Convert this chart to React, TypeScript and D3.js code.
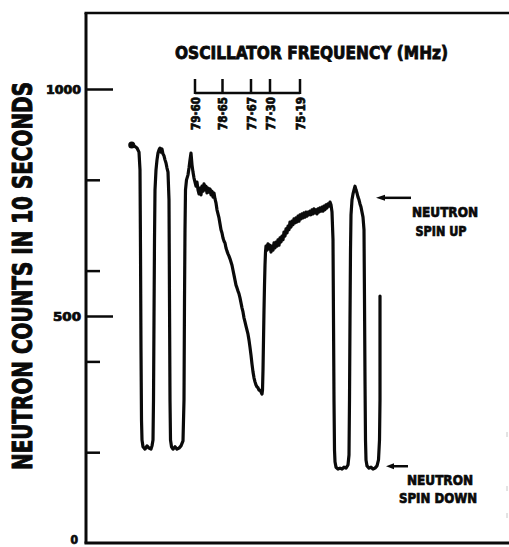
import React from 'react';
import * as d3 from 'd3';

const W = 509;
const H = 547;

// sweep time (arbitrary units) and neutron counts
const sweepTime = [
  45.7, 48, 51, 53, 54, 54.5, 55, 55.5, 56, 57,
  59, 61, 63, 65, 66, 67, 67.5, 68, 68.5, 69,
  70, 71, 72, 73, 74, 75, 76, 77, 78, 79,
  80, 81, 82, 83, 83.5, 84, 84.5, 85.5, 87, 89,
  91, 93, 95, 97, 98, 98.5, 99, 99.5, 100.5, 102,
  103, 104, 105, 106, 107, 108, 109, 110, 111, 112,
  113, 114, 115, 116, 117, 118, 119, 120, 121, 122,
  123, 124, 125, 126, 127, 128, 129, 130, 131, 132,
  133, 134, 135, 136, 137, 138, 139, 140, 141, 142,
  143, 144, 145, 146, 147, 148, 149, 150, 151, 152,
  153, 154, 155, 156, 157, 158, 159, 160, 161, 162,
  163, 164, 165, 166, 167, 168, 169, 170, 171, 172,
  173, 174, 175, 176, 176.5, 177, 177.5, 178, 178.5, 179,
  179.5, 180, 181, 182, 183, 184, 185, 186, 187, 188,
  189, 190, 191, 192, 193, 194, 195, 196, 197, 198,
  199, 200, 201, 202, 203, 204, 205, 206, 207, 208,
  209, 210, 211, 212, 213, 214, 215, 216, 217, 218,
  219, 220, 221, 222, 223, 224, 225, 226, 227, 228,
  229, 230, 231, 232, 233, 234, 235, 236, 237, 238,
  239, 240, 241, 242, 243, 244, 245, 246, 247, 247.5,
  248, 248.5, 249, 250, 252, 254, 256, 258, 260, 262,
  263, 263.5, 264, 264.5, 265, 266, 267, 268, 269, 270,
  271, 272, 273, 274, 275, 276, 277, 278, 278.5, 279,
  279.5, 280, 281, 283, 285, 287, 289, 291, 292.5, 293.5,
  294, 294,
];

const neutronCounts = [
  878, 876, 871, 862, 823, 646, 426, 272, 228, 213,
  208, 215, 210, 208, 215, 228, 316, 492, 669, 779,
  823, 845, 860, 867, 871, 862, 869, 858, 854, 845,
  838, 827, 818, 757, 536, 316, 228, 213, 208, 213,
  208, 210, 215, 226, 316, 536, 691, 779, 801, 812,
  827, 845, 860, 834, 818, 805, 796, 787, 796, 779,
  770, 783, 768, 787, 776, 792, 779, 787, 772, 783,
  774, 781, 768, 776, 763, 772, 759, 750, 735, 726,
  717, 704, 691, 684, 673, 666, 662, 651, 644, 638,
  633, 627, 620, 613, 602, 591, 580, 569, 563, 556,
  550, 541, 530, 519, 510, 497, 488, 479, 470, 461,
  448, 432, 415, 395, 378, 365, 356, 349, 345, 343,
  338, 338, 334, 329, 338, 382, 448, 514, 569, 613,
  642, 655, 646, 660, 649, 657, 642, 655, 646, 662,
  651, 664, 655, 669, 657, 673, 664, 677, 669, 686,
  677, 693, 684, 699, 691, 708, 697, 710, 702, 715,
  706, 717, 708, 721, 710, 724, 715, 726, 717, 728,
  719, 730, 721, 730, 724, 732, 724, 735, 726, 737,
  728, 735, 726, 737, 730, 739, 732, 741, 732, 743,
  735, 746, 739, 748, 743, 752, 746, 730, 669, 492,
  316, 206, 180, 168, 164, 166, 164, 168, 166, 173,
  195, 316, 492, 646, 724, 757, 770, 779, 787, 779,
  772, 763, 757, 748, 741, 730, 719, 691, 536, 360,
  228, 184, 171, 166, 168, 164, 166, 171, 184, 228,
  316, 545,
];

const yMajorTicks = [1000, 500];
const yMinorTicks = [800, 600, 400, 200];
const yZeroLabel = '0';

const freqLabels = ['79·60', '78·65', '77·67', '77·30', '75·19'];
const freqTimes = [109, 136.5, 165, 184, 214];

const spinUpCount = 757;
const spinDownCount = 168;

const FONT = "'DejaVu Sans Condensed', 'Liberation Sans Narrow', 'DejaVu Sans', sans-serif";
const INK = '#0a0a0a';

export default function App() {
  const left = 86;
  const top = 13;
  const bottom = 543.5;
  const x = d3.scaleLinear().domain([0, 423]).range([left, W]);
  const y = d3.scaleLinear().domain([0, 1000]).range([bottom, 89.5]);

  const pts: [number, number][] = sweepTime.map((t, i) => [t, neutronCounts[i]]);
  const line = d3
    .line<[number, number]>()
    .x((d) => x(d[0]))
    .y((d) => y(d[1]));

  const freqY = 93;
  const upY = y(spinUpCount) - 2;
  const downY = y(spinDownCount) - 1;

  const heavy = { stroke: INK, strokeWidth: 0.7, paintOrder: 'stroke' as const };

  return (
    <svg
      width={W}
      height={H}
      style={{ position: 'absolute', left: 0, top: 0, background: '#fff' }}
    >
      <rect x={0} y={0} width={W} height={H} fill="#fff" />
      {/* frame */}
      <line x1={left} y1={top} x2={left} y2={bottom} stroke={INK} strokeWidth={3} />
      <line x1={left - 1.5} y1={top} x2={W} y2={top} stroke={INK} strokeWidth={2.5} />
      <line x1={left - 1.5} y1={bottom - 0.5} x2={W} y2={bottom - 0.5} stroke={INK} strokeWidth={3} />

      {/* faint right edge marks */}
      {[432, 486, 513].map((yy) => (
        <line key={yy} x1={507} y1={yy} x2={507} y2={yy + 5} stroke="#c8c8c8" strokeWidth={1} />
      ))}

      {/* y ticks */}
      {yMajorTicks.map((v) => (
        <g key={v}>
          <line x1={left} y1={y(v)} x2={left + 27} y2={y(v)} stroke={INK} strokeWidth={2.5} />
          <text
            x={81}
            y={y(v)}
            textAnchor="end"
            dominantBaseline="central"
            fontFamily={FONT}
            fontWeight="bold"
            fontSize={12}
            textLength={v === 1000 ? 35 : 28}
            lengthAdjust="spacingAndGlyphs"
            fill={INK}
            {...heavy}
          >
            {v}
          </text>
        </g>
      ))}
      {yMinorTicks.map((v) => (
        <line key={v} x1={left} y1={y(v)} x2={left + 14} y2={y(v)} stroke={INK} strokeWidth={2.5} />
      ))}
      <text
        x={78}
        y={y(0) - 4}
        textAnchor="end"
        dominantBaseline="central"
        fontFamily={FONT}
        fontWeight="bold"
        fontSize={12}
        fill={INK}
        {...heavy}
      >
        {yZeroLabel}
      </text>

      {/* y title */}
      <text
        transform={`translate(23,276) rotate(-90)`}
        textAnchor="middle"
        dominantBaseline="central"
        fontFamily={FONT}
        fontWeight="bold"
        fontSize={26}
        textLength={388}
        lengthAdjust="spacingAndGlyphs"
        fill={INK}
        stroke={INK}
        strokeWidth={1}
      >
        NEUTRON COUNTS IN 10 SECONDS
      </text>

      {/* frequency title and scale */}
      <text
        x={175}
        y={59}
        fontFamily={FONT}
        fontWeight="bold"
        fontSize={18}
        textLength={273}
        lengthAdjust="spacingAndGlyphs"
        fill={INK}
        stroke={INK}
        strokeWidth={0.8}
      >
        OSCILLATOR FREQUENCY (MHz)
      </text>
      <line
        x1={x(freqTimes[0])}
        y1={freqY}
        x2={x(freqTimes[freqTimes.length - 1])}
        y2={freqY}
        stroke={INK}
        strokeWidth={2.5}
      />
      {freqTimes.map((t, i) => (
        <g key={i}>
          <line x1={x(t)} y1={freqY + 1} x2={x(t)} y2={79} stroke={INK} strokeWidth={2.5} />
          <text
            transform={`translate(${x(t) + 4.5},97) rotate(-90)`}
            textAnchor="end"
            fontFamily={FONT}
            fontWeight="bold"
            fontSize={12}
            textLength={33}
            lengthAdjust="spacingAndGlyphs"
            fill={INK}
            {...heavy}
          >
            {freqLabels[i]}
          </text>
        </g>
      ))}

      {/* trace */}
      <path
        d={line(pts) || ''}
        fill="none"
        stroke={INK}
        strokeWidth={3.2}
        strokeLinejoin="round"
        strokeLinecap="round"
      />
      <circle cx={x(sweepTime[0])} cy={y(neutronCounts[0])} r={3.5} fill={INK} />

      {/* annotations */}
      <path d={`M376,${upY} L385,${upY - 3} L385,${upY + 3} Z`} fill={INK} />
      <line x1={383} y1={upY} x2={411} y2={upY} stroke={INK} strokeWidth={2.5} />
      <text x={445} y={217} textAnchor="middle" fontFamily={FONT} fontWeight="bold" fontSize={14} textLength={66} lengthAdjust="spacingAndGlyphs" fill={INK} {...heavy}>
        NEUTRON
      </text>
      <text x={441} y={236} textAnchor="middle" fontFamily={FONT} fontWeight="bold" fontSize={14} textLength={51} lengthAdjust="spacingAndGlyphs" fill={INK} {...heavy}>
        SPIN UP
      </text>

      <path d={`M386,${downY} L394,${downY - 3} L394,${downY + 3} Z`} fill={INK} />
      <line x1={392} y1={downY} x2={408} y2={downY} stroke={INK} strokeWidth={2.5} />
      <text x={440} y={485} textAnchor="middle" fontFamily={FONT} fontWeight="bold" fontSize={14} textLength={66} lengthAdjust="spacingAndGlyphs" fill={INK} {...heavy}>
        NEUTRON
      </text>
      <text x={438} y={503} textAnchor="middle" fontFamily={FONT} fontWeight="bold" fontSize={14} textLength={78} lengthAdjust="spacingAndGlyphs" fill={INK} {...heavy}>
        SPIN DOWN
      </text>
    </svg>
  );
}
